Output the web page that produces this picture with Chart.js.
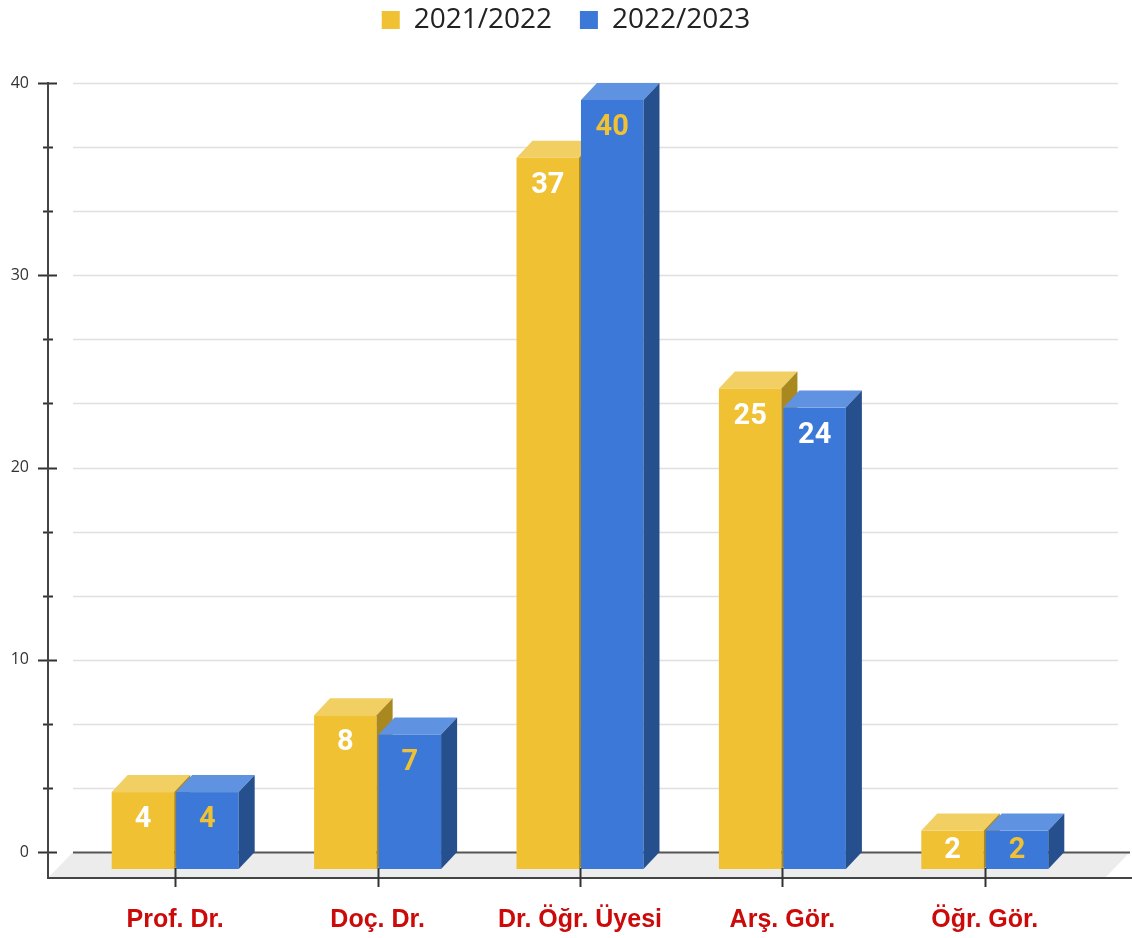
<!DOCTYPE html>
<html>
<head>
<meta charset="utf-8">
<script src="https://cdn.jsdelivr.net/npm/chart.js@4.4.1/dist/chart.umd.min.js"></script>
<style>
  html, body { margin: 0; padding: 0; background: #fff; }
  #wrap { width: 1132px; height: 938px; }
</style>
</head>
<body>
<div id="wrap"><canvas id="staff-chart"></canvas></div>
<script>
const categories = ["Prof. Dr.", "Doç. Dr.", "Dr. Öğr. Üyesi", "Arş. Gör.", "Öğr. Gör."];
const seriesNames = ["2021/2022", "2022/2023"];
const counts2021 = [4, 8, 37, 25, 2];
const counts2022 = [4, 7, 40, 24, 2];
const yMajorTicks = [0, 10, 20, 30, 40];

// face colours: front, top, side
const yellowFaces = ["#efc133", "#f2cf62", "#a8881f"];
const blueFaces = ["#3b78d8", "#5f92e1", "#264f8e"];
// value label colours per bar (blue bars mostly carry yellow numbers)
const labelColors2021 = ["#fff", "#fff", "#fff", "#fff", "#fff"];
const labelColors2022 = ["#efc133", "#efc133", "#efc133", "#fff", "#efc133"];

const DX = 16, DY = 17; // bar depth

const cubes = {
    id: "cubes",
    beforeDatasetsDraw(chart) {
        const { ctx, scales: { x, y } } = chart;
        const y0 = y.getPixelForValue(0);
        const yMax = y.getPixelForValue(40);
        const axisX = 48, backX = 73, floorY = y0 + 26;

        ctx.save();
        // floor
        ctx.fillStyle = "#ececec";
        ctx.beginPath();
        ctx.moveTo(backX, y0);
        ctx.lineTo(1130, y0);
        ctx.lineTo(1105, floorY);
        ctx.lineTo(axisX, floorY);
        ctx.closePath();
        ctx.fill();

        // grid lines + y tick marks
        y.ticks.forEach((t) => {
            const py = Math.round(y.getPixelForValue(t.value)) + 0.5;
            const major = t.label !== "";
            ctx.strokeStyle = t.value === 0 ? "#555" : "#e0e0e0";
            ctx.lineWidth = t.value === 0 ? 2 : 1.5;
            ctx.beginPath();
            ctx.moveTo(backX, py);
            ctx.lineTo(t.value === 0 ? 1130 : 1118, py);
            ctx.stroke();
            ctx.strokeStyle = "#333";
            ctx.lineWidth = 2;
            ctx.beginPath();
            ctx.moveTo(major ? 38 : 43, py);
            ctx.lineTo(major ? 57 : 53, py);
            ctx.stroke();
        });

        // axes
        ctx.strokeStyle = "#444";
        ctx.lineWidth = 2;
        ctx.beginPath();
        ctx.moveTo(axisX, yMax - 1);
        ctx.lineTo(axisX, floorY);
        ctx.lineTo(1132, floorY);
        ctx.stroke();

        // bars
        chart.data.datasets.forEach((ds, di) => {
            const faces = di === 0 ? yellowFaces : blueFaces;
            chart.getDatasetMeta(di).data.forEach((el) => {
                const x0 = el.x - el.width / 2, x1 = el.x + el.width / 2;
                const ft = el.y + DY, fb = el.base + DY;
                ctx.fillStyle = faces[0];
                ctx.fillRect(x0, ft, x1 - x0, fb - ft);
                ctx.fillStyle = faces[1];
                ctx.beginPath();
                ctx.moveTo(x0, ft);
                ctx.lineTo(x1, ft);
                ctx.lineTo(x1 + DX, el.y);
                ctx.lineTo(x0 + DX, el.y);
                ctx.closePath();
                ctx.fill();
                ctx.fillStyle = faces[2];
                ctx.beginPath();
                ctx.moveTo(x1, ft);
                ctx.lineTo(x1 + DX, el.y);
                ctx.lineTo(x1 + DX, el.base);
                ctx.lineTo(x1, fb);
                ctx.closePath();
                ctx.fill();
            });
        });

        // category tick marks
        ctx.strokeStyle = "#333";
        ctx.lineWidth = 2;
        x.ticks.forEach((t, i) => {
            const px = Math.round(x.getPixelForTick(i)) + 0.5;
            ctx.beginPath();
            ctx.moveTo(px, y0 + 16);
            ctx.lineTo(px, floorY + 9);
            ctx.stroke();
        });

        // value labels
        ctx.font = "bold 29px Roboto";
        ctx.textAlign = "center";
        ctx.textBaseline = "middle";
        chart.data.datasets.forEach((ds, di) => {
            const colors = di === 0 ? labelColors2021 : labelColors2022;
            chart.getDatasetMeta(di).data.forEach((el, i) => {
                const ft = el.y + DY, fb = el.base + DY;
                ctx.fillStyle = colors[i];
                ctx.fillText(String(ds.data[i]), el.x, Math.min(ft + 28, (ft + fb) / 2 + 1));
            });
        });
        ctx.restore();
        return false;
    },
};

new Chart(document.getElementById("staff-chart"), {
    type: "bar",
    data: {
        labels: categories,
        datasets: [
            { label: seriesNames[0], data: counts2021, backgroundColor: yellowFaces[0] },
            { label: seriesNames[1], data: counts2022, backgroundColor: blueFaces[0] },
        ],
    },
    options: {
        responsive: true,
        maintainAspectRatio: false,
        animation: false,
        layout: { padding: 0 },
        categoryPercentage: 0.637,
        barPercentage: 0.97,
        plugins: {
            legend: {
                position: "top",
                labels: {
                    boxWidth: 18,
                    boxHeight: 18,
                    padding: 6,
                    color: "#222",
                    font: { family: "'Open Sans'", size: 28 },
                    // trailing spaces widen the gap between the two entries
                    generateLabels: (chart) =>
                        Chart.defaults.plugins.legend.labels.generateLabels(chart)
                            .map((l, i) => (i === 0 ? { ...l, text: l.text + "   " } : l)),
                },
            },
            // empty spacer between legend and plot
            subtitle: {
                display: true,
                text: "",
                weight: 500,
                font: { size: 10 },
                padding: { top: 0, bottom: 27 },
            },
            tooltip: { enabled: false },
        },
        scales: {
            x: {
                grid: { display: false },
                border: { display: false },
                ticks: {
                    padding: 45,
                    color: "#cc0a0a",
                    font: { family: "'Liberation Sans'", size: 25, weight: "bold" },
                },
                afterFit: (s) => { s.height = 86; },
            },
            y: {
                min: 0,
                max: 40,
                grid: { display: false, drawTicks: false },
                border: { display: false },
                afterBuildTicks: (s) => {
                    const t = [];
                    for (let i = 0; i <= 12; i++) t.push({ value: i * 10 / 3 });
                    s.ticks = t;
                },
                ticks: {
                    padding: 45,
                    color: "#333",
                    font: { family: "'Open Sans'", size: 16 },
                    callback: (v) => (yMajorTicks.includes(v) ? v : ""),
                },
                afterFit: (s) => { s.width = 74; },
            },
            // blank right-hand axis: reserves room for the floor/grid overhang
            yRight: {
                position: "right",
                grid: { display: false },
                border: { display: false },
                ticks: { display: false },
                afterFit: (s) => { s.width = 46; },
            },
        },
    },
    plugins: [cubes],
});
</script>
</body>
</html>
